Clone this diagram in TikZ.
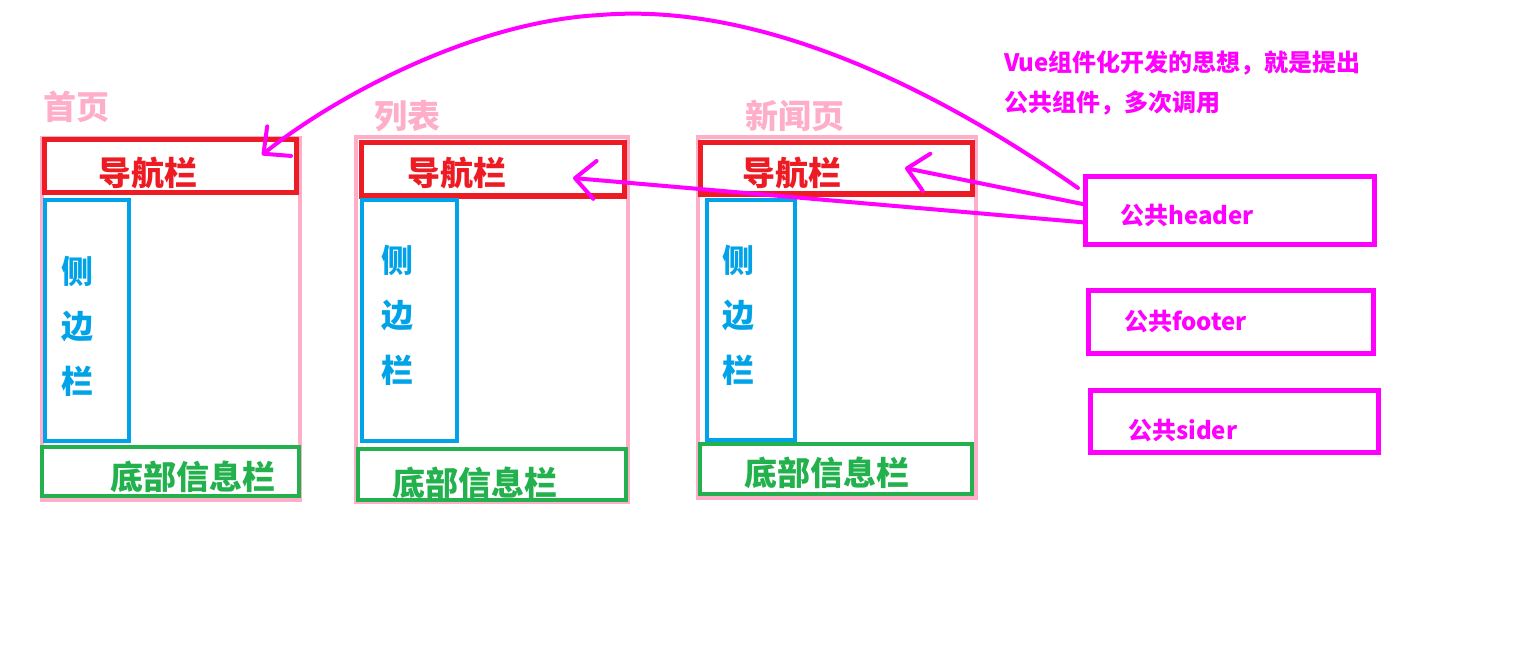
\documentclass[tikz,border=0pt]{standalone}
\usepackage{fontspec}
\setmainfont{Noto Sans CJK SC}
\usetikzlibrary{arrows.meta}
\definecolor{navred}{RGB}{237,28,36}
\definecolor{sideblue}{RGB}{0,162,232}
\definecolor{footgreen}{RGB}{34,177,76}
\definecolor{pagepink}{RGB}{255,174,201}
\definecolor{pubmagenta}{RGB}{255,0,255}
\tikzset{
  box/.style={inner sep=0pt, outer sep=0pt},
  pagebox/.style={box, draw=pagepink, line width=4pt},
  navbox/.style={box, draw=navred, line width=5pt},
  sidebox/.style={box, draw=sideblue, line width=4pt},
  footbox/.style={box, draw=footgreen, line width=4pt},
  pubbox/.style={box, draw=pubmagenta, line width=5pt},
  big/.style={inner sep=0pt, font=\fontsize{33}{33}\selectfont\bfseries},
  sidetext/.style={big, text=sideblue, align=center, font=\fontsize{32}{55}\selectfont\bfseries},
  small/.style={inner sep=0pt, font=\fontsize{24}{40}\selectfont\bfseries, text=pubmagenta},
  reuse/.style={draw=pubmagenta, line width=4pt, line cap=round,
    -{Straight Barb[length=20pt,width=38pt,round]}}
}
\begin{document}
\begin{tikzpicture}[x=1pt, y=-1pt]
  \useasboundingbox (0,0) rectangle (1522,647);
  % the three pages: outline, header, sider, footer
  \node[pagebox, minimum width=258, minimum height=362] (pageA) at (171,319) {};
  \node[pagebox, minimum width=272, minimum height=365] (pageB) at (492,319.5) {};
  \node[pagebox, minimum width=278, minimum height=361] (pageC) at (837,317.5) {};
  \node[navbox, minimum width=252, minimum height=53] (navA) at (170,166.5) {};
  \node[navbox, minimum width=263, minimum height=53] (navB) at (492.5,169.5) {};
  \node[navbox, minimum width=272, minimum height=51] (navC) at (836,168.5) {};
  \node[sidebox, minimum width=84, minimum height=241] (sideA) at (87,320.5) {};
  \node[sidebox, minimum width=95, minimum height=241] (sideB) at (409.5,320.5) {};
  \node[sidebox, minimum width=88, minimum height=240] (sideC) at (751,320) {};
  \node[footbox, minimum width=257, minimum height=49] (footA) at (170.5,471.5) {};
  \node[footbox, minimum width=268, minimum height=51] (footB) at (492,474.5) {};
  \node[footbox, minimum width=272, minimum height=50] (footC) at (836,469) {};
  % page titles
  \node[big, text=pagepink] (titleA) at (76,107) {首页};
  \node[big, text=pagepink] (titleB) at (407,116) {列表};
  \node[big, text=pagepink] (titleC) at (795,116) {新闻页};
  % texts in the boxes
  \node[big, text=navred] (navtextA) at (148,173) {导航栏};
  \node[big, text=navred] (navtextB) at (457,173) {导航栏};
  \node[big, text=navred] (navtextC) at (792,173) {导航栏};
  \node[sidetext] (sidetextA) at (77,326) {侧\\边\\栏};
  \node[sidetext] (sidetextB) at (397,315) {侧\\边\\栏};
  \node[sidetext] (sidetextC) at (738,315) {侧\\边\\栏};
  \node[big, text=footgreen] (foottextA) at (193,477) {底部信息栏};
  \node[big, text=footgreen] (foottextB) at (475,483) {底部信息栏};
  \node[big, text=footgreen] (foottextC) at (827,473) {底部信息栏};
  % the shared components
  \node[small, anchor=west, align=left] (idea) at (1004,83) {Vue组件化开发的思想，就是提出\\公共组件，多次调用};
  \node[pubbox, minimum width=289, minimum height=67] (header) at (1229.5,210.5) {};
  \node[pubbox, minimum width=285, minimum height=63] (footer) at (1230.5,321.5) {};
  \node[pubbox, minimum width=288, minimum height=62] (sider) at (1234,421) {};
  \node[small, anchor=west] (headertext) at (1120,216) {公共header};
  \node[small, anchor=west] (footertext) at (1124,322) {公共footer};
  \node[small, anchor=west] (sidertext) at (1128,431) {公共sider};
  % arrows: the header is reused by every page
  \coordinate (tipA) at (262,155);
  \coordinate (tipB) at (573,178);
  \coordinate (tipC) at (905,168);
  \draw[reuse] ([xshift=-7pt, yshift=-11pt]header.north west)
    .. controls (880,50) and (720,5) .. (600,15)
    .. controls (470,22) and (330,100) .. (tipA);
  \draw[reuse] ([yshift=-12pt]header.west) -- (tipB);
  \draw[reuse] ([yshift=6pt]header.west) -- (tipC);
\end{tikzpicture}
\end{document}
